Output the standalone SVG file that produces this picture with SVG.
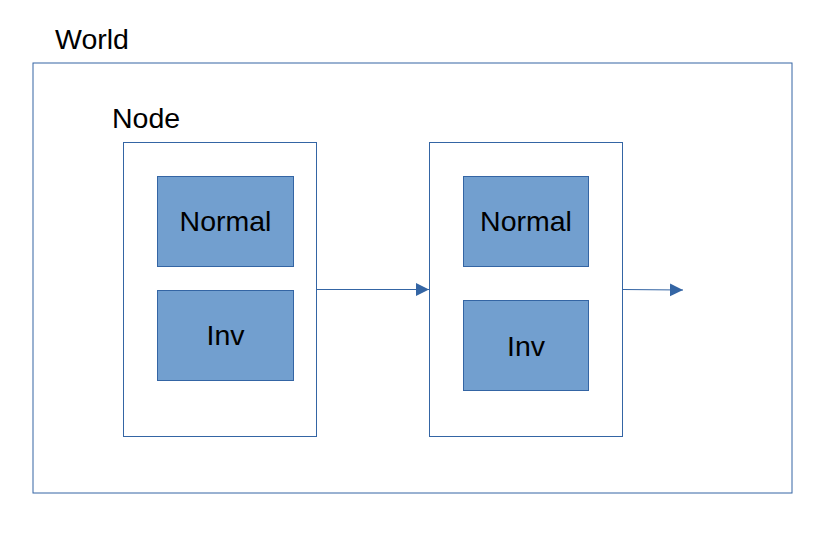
<svg xmlns="http://www.w3.org/2000/svg" width="820" height="548" viewBox="0 0 820 548">
<style>
text{font-family:"Liberation Sans",Arial,sans-serif;font-size:28.5px;fill:#000}
.frame{fill:#fff;stroke:#3465a4;stroke-width:1}
.box{fill:#729fcf;stroke:#3465a4;stroke-width:1}
.c{text-anchor:middle}
.conn{stroke:#3465a4;stroke-width:1.2;fill:none}
</style>
<defs>
<marker id="ah" markerUnits="userSpaceOnUse" markerWidth="14" markerHeight="14" refX="13" refY="6.5" orient="auto">
<path d="M0,0 L13,6.5 L0,13 Z" fill="#3465a4"/>
</marker>
</defs>
<rect width="820" height="548" fill="#fff"/>
<g id="world">
<rect class="frame" x="33" y="63" width="759" height="430"/>
<text x="55" y="49">World</text>
</g>
<g id="node1">
<rect class="frame" x="123.5" y="142.5" width="193" height="294"/>
<text x="112" y="128">Node</text>
</g>
<g id="normal1">
<rect class="box" x="157.5" y="176.5" width="136" height="90"/>
<text class="c" x="225.5" y="231">Normal</text>
</g>
<g id="inv1">
<rect class="box" x="157.5" y="290.5" width="136" height="90"/>
<text class="c" x="225.5" y="345">Inv</text>
</g>
<g id="node2">
<rect class="frame" x="429.5" y="142.5" width="193" height="294"/>
</g>
<g id="normal2">
<rect class="box" x="463.5" y="176.5" width="125" height="90"/>
<text class="c" x="526" y="231">Normal</text>
</g>
<g id="inv2">
<rect class="box" x="463.5" y="300.5" width="125" height="90"/>
<text class="c" x="526" y="356">Inv</text>
</g>
<g id="connectors">
<line class="conn" x1="316.5" y1="289.5" x2="429" y2="289.5" marker-end="url(#ah)"/>
<line class="conn" x1="622.5" y1="289.5" x2="683" y2="290" marker-end="url(#ah)"/>
</g>
</svg>
